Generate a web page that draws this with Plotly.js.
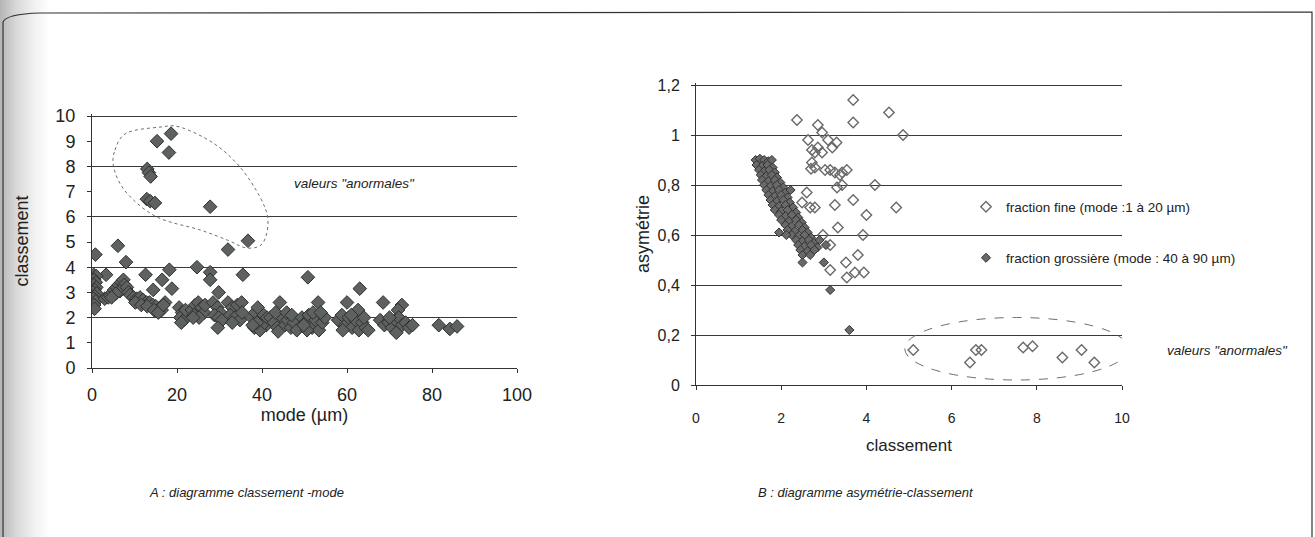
<!DOCTYPE html>
<html><head><meta charset="utf-8">
<script src="https://cdn.plot.ly/plotly-3.0.1.min.js"></script>
<style>
html,body{margin:0;padding:0;}
body{width:1315px;height:537px;background:linear-gradient(to right,#b5b5b5 0px,#d8d8d8 16px,#f3f3f3 36px,#ffffff 50px);}
#chart{width:1315px;height:537px;}
</style>
</head><body><div id="chart"></div>
<script>
// ---- Diagram A : classement vs mode ----
var modeA = [18.6,15.3,18.1,13.0,13.4,13.8,12.9,13.7,14.8,27.8,36.7,32.0,
  0.8,6.1,8.0,24.7,18.2,27.8,27.8,35.5,12.6,16.5,14.4,18.8,29.8,3.3,
  0.4,1.0,0.5,0.9,0.4,1.0,0.6,0.3,1.1,0.6,0.4,0.9,0.5,0.6,
  3.0,3.8,4.3,4.8,5.2,5.8,6.3,6.9,7.4,7.6,6.6,5.6,4.6,8.2,8.6,
  9.0,9.8,10.5,11.3,12.0,12.8,13.5,14.3,15.0,15.8,16.4,10.2,11.6,13.0,14.6,15.6,17.2,16.8,
  20.5,21.2,20.8,21.6,22.0,21.0,
  23.5,24.3,25.0,25.8,26.4,24.0,25.2,23.8,26.6,
  28.5,29.5,30.2,28.8,29.8,30.6,29.6,
  32.0,33.0,34.2,35.2,32.5,33.6,34.8,33.0,35.3,
  37.6,38.4,39.0,39.6,40.4,41.0,38.2,39.5,40.6,41.2,38.8,37.8,
  42.0,42.8,43.6,44.2,44.8,45.4,43.2,46.0,46.8,47.5,48.2,45.8,43.8,47.0,
  50.8,53.2,49.4,50.2,51.0,51.8,52.6,53.4,54.2,54.8,50.6,52.0,53.8,49.8,
  63.0,60.0,62.6,57.9,58.8,59.6,60.4,61.2,62.0,62.8,63.6,64.4,65.0,59.0,61.0,64.0,
  68.5,72.9,72.0,67.8,68.8,69.8,70.6,71.4,72.2,73.0,73.8,74.6,75.4,71.6,70.0,
  81.6,84.2,85.9];
var classA = [9.3,9.0,8.55,7.9,7.75,7.6,6.7,6.62,6.55,6.4,5.05,4.7,
  4.5,4.85,4.2,4.0,3.9,3.8,3.5,3.7,3.7,3.5,3.1,3.15,3.0,3.7,
  3.7,3.65,3.5,3.4,3.3,3.2,3.1,3.0,2.95,2.85,2.75,2.65,2.5,2.35,
  2.75,2.8,2.9,3.0,3.1,3.2,3.3,3.4,3.5,3.3,3.05,2.95,2.8,3.2,3.0,
  2.9,2.8,2.75,2.8,2.7,2.6,2.6,2.5,2.45,2.35,2.3,2.6,2.5,2.45,2.3,2.2,2.6,2.5,
  2.4,2.2,2.0,1.9,2.3,1.8,
  2.3,2.5,2.6,2.4,2.2,2.1,2.0,2.0,2.5,
  2.6,2.4,2.2,2.1,2.0,1.9,1.6,
  2.6,2.4,2.5,2.6,2.1,2.0,1.9,1.8,2.2,
  2.0,2.2,2.4,1.9,2.1,1.7,1.6,1.5,1.8,2.0,1.8,1.7,
  2.0,1.8,1.6,2.6,2.0,1.7,2.2,1.9,1.6,1.8,1.5,2.2,1.45,2.1,
  3.6,2.6,2.0,1.8,2.1,1.6,1.9,1.5,1.8,2.0,1.5,2.2,2.2,1.7,
  3.15,2.6,2.3,1.9,2.1,1.7,2.0,1.6,1.9,1.5,1.8,1.6,1.5,1.5,2.1,2.0,
  2.6,2.5,2.3,1.9,1.7,1.8,1.6,1.9,2.0,1.7,1.8,1.6,1.7,1.4,2.0,
  1.7,1.55,1.65];

// ---- Diagram B : asymétrie vs classement ----
var classFine = [2.37,2.86,2.96,3.69,3.69,4.53,4.86,
  2.63,3.1,3.3,3.2,2.72,2.86,2.96,2.79,
  2.72,2.79,2.70,3.03,3.15,3.26,3.38,3.54,3.43,
  3.31,3.43,4.2,2.6,3.69,4.7,3.26,2.49,2.68,2.79,
  4.0,3.33,3.92,2.98,3.15,2.49,2.56,3.8,3.52,3.15,3.73,3.94,3.54,2.79,
  5.1,6.43,6.57,6.7,7.68,7.9,8.6,9.05,9.35];
var asymFine = [1.06,1.04,1.01,1.05,1.14,1.09,1.0,
  0.98,0.98,0.97,0.95,0.94,0.95,0.93,0.93,
  0.89,0.87,0.865,0.86,0.86,0.85,0.84,0.86,0.85,
  0.79,0.80,0.80,0.77,0.74,0.71,0.72,0.73,0.71,0.71,
  0.68,0.63,0.60,0.60,0.56,0.61,0.59,0.52,0.49,0.46,0.45,0.45,0.43,0.55,
  0.14,0.09,0.14,0.14,0.15,0.155,0.11,0.14,0.09];
var classCoarse = [1.40,1.50,1.60,1.70,1.78, 1.42,1.55,1.68,1.80, 1.48,1.60,1.72,1.85,
  1.52,1.65,1.78,1.90, 1.55,1.70,1.85,1.98, 1.60,1.75,1.90,2.05, 1.65,1.80,1.95,2.10,2.22,
  1.70,1.85,2.00,2.15, 1.75,1.90,2.05,2.20, 1.80,1.95,2.10,2.28, 1.85,2.00,2.15,2.35,
  1.95,2.10,2.25,2.40, 2.00,2.18,2.35,2.48, 2.10,2.25,2.42,2.55, 2.15,2.32,2.50,2.62,
  2.25,2.40,2.55,2.70, 2.35,2.50,2.65,2.78, 2.40,2.55,2.70,2.85, 2.45,2.62,2.78, 2.50,2.68,
  1.95,2.12,2.50,3.00,3.15,3.60,2.90,3.05];
var asymCoarse = [0.90,0.905,0.90,0.895,0.90, 0.88,0.875,0.88,0.87, 0.86,0.855,0.86,0.85,
  0.84,0.835,0.84,0.83, 0.82,0.815,0.82,0.81, 0.80,0.795,0.80,0.79, 0.78,0.775,0.78,0.77,0.78,
  0.76,0.755,0.76,0.75, 0.74,0.735,0.74,0.73, 0.72,0.715,0.72,0.71, 0.70,0.695,0.70,0.69,
  0.68,0.675,0.68,0.67, 0.66,0.655,0.66,0.65, 0.64,0.635,0.64,0.63, 0.62,0.615,0.62,0.61,
  0.60,0.595,0.60,0.59, 0.58,0.575,0.58,0.57, 0.56,0.555,0.56,0.55, 0.54,0.535,0.54, 0.52,0.52,
  0.61,0.60,0.49,0.49,0.38,0.22,0.58,0.56];

var FONT = '"Liberation Sans", Arial, sans-serif';

// smooth closed outline (Catmull-Rom) in data coords for the dashed "anomalous" blob
function smoothPath(px, py) {
  var n = px.length, s = 'M ' + px[0] + ',' + py[0];
  for (var i = 0; i < n; i++) {
    var i0 = (i - 1 + n) % n, i2 = (i + 1) % n, i3 = (i + 2) % n;
    var c1x = px[i] + (px[i2] - px[i0]) / 6, c1y = py[i] + (py[i2] - py[i0]) / 6;
    var c2x = px[i2] - (px[i3] - px[i]) / 6, c2y = py[i2] - (py[i3] - py[i]) / 6;
    s += ' C ' + c1x + ',' + c1y + ' ' + c2x + ',' + c2y + ' ' + px[i2] + ',' + py[i2];
  }
  return s + ' Z';
}
var blobX = [5.4, 8.2, 16, 20.7, 28.5, 34.8, 39.5, 41.4, 40.2, 36.5, 31.8, 25.4, 15.3, 8.2, 5.2];
var blobY = [8.65, 9.33, 9.56, 9.56, 8.93, 7.98, 6.79, 5.87, 4.96, 4.76, 5.08, 5.48, 5.99, 6.94, 7.9];

var traces = [
  // empty trace that only carries the every-2-units gridline axis of diagram A
  {type:'scatter', mode:'markers', x:[], y:[], xaxis:'x', yaxis:'y3', showlegend:false, hoverinfo:'skip'},
  {type:'scatter', mode:'markers', x:modeA, y:classA, xaxis:'x', yaxis:'y', showlegend:false,
   marker:{symbol:'diamond', size:10.5, color:'#5d615f', line:{color:'#2f2f2f', width:1}}},
  {type:'scatter', mode:'markers', x:classFine, y:asymFine, xaxis:'x2', yaxis:'y2',
   name:'fraction fine (mode :1 à 20 µm)', legend:'legend',
   marker:{symbol:'diamond-open', size:8, color:'#6a6a6a', line:{width:1.4}}},
  {type:'scatter', mode:'markers', x:classCoarse, y:asymCoarse, xaxis:'x2', yaxis:'y2',
   name:'fraction grossière (mode : 40 à 90 µm)', legend:'legend2',
   marker:{symbol:'diamond', size:7, color:'#696969', line:{color:'#333333', width:1}}}
];

var W = 1315, H = 537;
function px(x){return x / W;}
function py(y){return 1 - y / H;}

var axisCommon = {showline:true, linecolor:'#333', linewidth:1, zeroline:false,
  ticks:'outside', ticklen:4, tickcolor:'#333', fixedrange:true};

// ranges extended a hair above the last gridline so that the top gridline is drawn
var layout = {
  width:W, height:H, margin:{l:0,r:0,t:0,b:0},
  paper_bgcolor:'rgba(0,0,0,0)', plot_bgcolor:'rgba(0,0,0,0)',
  separators:', ',
  font:{family:FONT, color:'#222'},
  xaxis:Object.assign({}, axisCommon, {domain:[px(92), px(517)], range:[0,100], dtick:20, anchor:'y',
    showgrid:false, tickfont:{size:18, color:'#222'}, ticklabelstandoff:6,
    title:{text:'mode (µm)', font:{size:18, color:'#222'}, standoff:2}}),
  yaxis:Object.assign({}, axisCommon, {domain:[py(368), py(114)], range:[0,10.08], dtick:1, anchor:'x',
    showgrid:false, tickfont:{size:18, color:'#222'}, ticklabelstandoff:8,
    title:{text:'classement', font:{size:18, color:'#222'}, standoff:22}}),
  yaxis3:{overlaying:'y', anchor:'x', range:[0,10.08], dtick:2, showgrid:true, gridcolor:'#3a3a3a', gridwidth:1,
    showticklabels:false, ticks:'', showline:false, zeroline:false, fixedrange:true, side:'left'},
  xaxis2:Object.assign({}, axisCommon, {domain:[px(696), px(1122)], range:[0,10], dtick:2, anchor:'y2',
    showgrid:false, tickfont:{size:14, color:'#222'}, ticklabelstandoff:16,
    title:{text:'classement', font:{size:17, color:'#222'}, standoff:14}}),
  yaxis2:Object.assign({}, axisCommon, {domain:[py(385), py(83)], range:[0,1.208], dtick:0.2, anchor:'x2',
    showgrid:true, gridcolor:'#3a3a3a', gridwidth:1, tickfont:{size:16, color:'#222'}, ticklabelstandoff:8,
    title:{text:'asymétrie', font:{size:18, color:'#222'}, standoff:3}}),
  legend:{x:px(966), xanchor:'left', y:py(207), yanchor:'middle', bgcolor:'rgba(0,0,0,0)',
    font:{size:13.5, color:'#222'}},
  legend2:{x:px(966), xanchor:'left', y:py(258), yanchor:'middle', bgcolor:'rgba(0,0,0,0)',
    font:{size:13.5, color:'#222'}},
  shapes:[
    {type:'path', xref:'x', yref:'y', path:smoothPath(blobX, blobY),
     line:{color:'#6f6f6f', width:1, dash:'dot'}, fillcolor:'rgba(0,0,0,0)'},
    {type:'circle', xref:'x2', yref:'y2', x0:4.9, x1:10.15, y0:0.02, y1:0.27,
     line:{color:'#6f6f6f', width:1, dash:'dash'}, fillcolor:'rgba(0,0,0,0)'},
    {type:'path', xref:'paper', yref:'paper',
     path:'M '+px(3)+',0 L '+px(3)+','+py(22)+' Q '+px(6)+','+py(14)+' '+px(40)+','+py(13)+' L '+px(1312)+','+py(12)+' L '+px(1312)+',0',
     line:{color:'#333', width:1.2}}
  ],
  annotations:[
    {xref:'x', yref:'y', x:47.1, y:7.34, xanchor:'left', yanchor:'middle', showarrow:false,
     text:'<i>valeurs "anormales"</i>', font:{size:13.5, color:'#222'}},
    {xref:'paper', yref:'paper', x:px(1165), y:py(350), xanchor:'left', yanchor:'middle', showarrow:false,
     text:'<i>valeurs "anormales"</i>', font:{size:13.5, color:'#222'}},
    {xref:'paper', yref:'paper', x:px(147), y:py(492), xanchor:'left', yanchor:'middle', showarrow:false,
     text:'<i>A : diagramme classement -mode</i>', font:{size:13, color:'#222'}},
    {xref:'paper', yref:'paper', x:px(756), y:py(492), xanchor:'left', yanchor:'middle', showarrow:false,
     text:'<i>B : diagramme asymétrie-classement</i>', font:{size:13, color:'#222'}}
  ]
};

Plotly.newPlot('chart', traces, layout, {staticPlot:true, displayModeBar:false});
</script></body></html>
